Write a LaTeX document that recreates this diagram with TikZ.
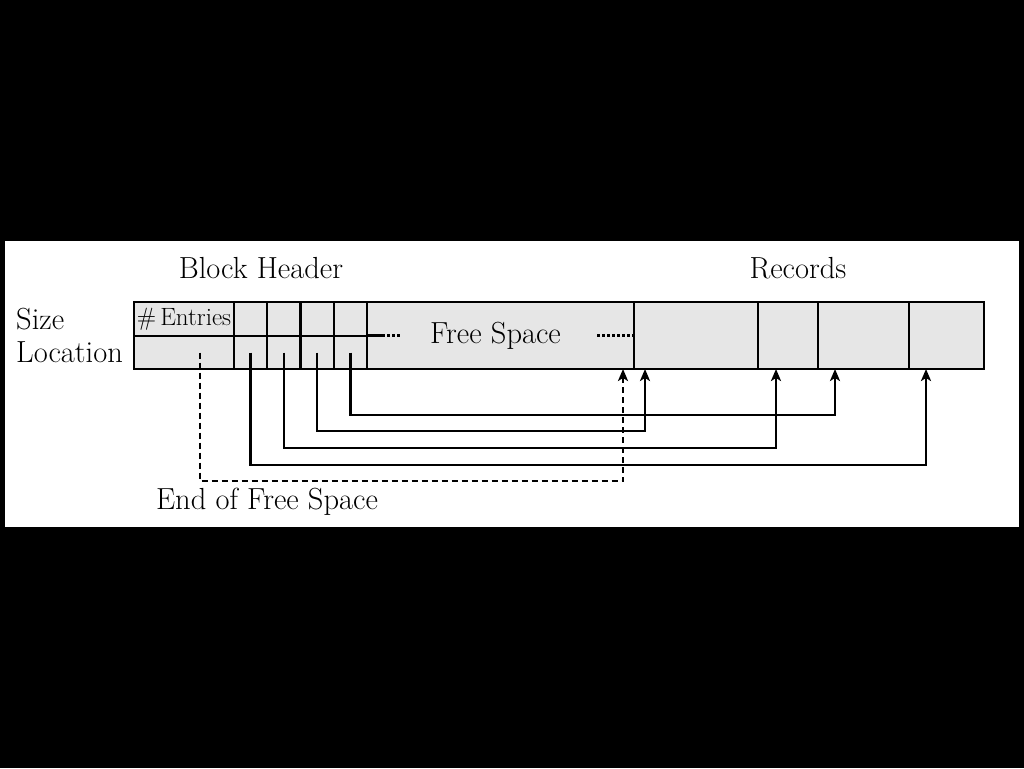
\documentclass[tikz,border=0pt]{standalone}
\usetikzlibrary{arrows.meta,positioning}
\definecolor{cellgray}{RGB}{230,230,230}

\begin{document}
\begin{tikzpicture}[x=1pt, y=-1pt, >={Stealth[length=12pt,width=10pt,inset=3pt]},
  cell/.style={draw, fill=cellgray, line width=2.4pt, inner sep=0pt, outer sep=0pt},
  lbl/.style={font=\fontsize{30.5}{34}\selectfont, inner sep=0pt},
  ptr/.style={line width=2.4pt, ->},
  dotline/.style={line width=2.4pt, dash pattern=on 3pt off 2pt}]

  % --- frame ---
  \fill[black] (0,0) rectangle (1024,768);
  \fill[white] (5,241) rectangle (1019,527);

  % --- block header ---
  \node[cell, minimum width=100pt, minimum height=34pt,
        font=\fontsize{25}{28}\selectfont] (entries) at (184,319) {\#\,Entries};
  \node[cell, minimum width=100pt, minimum height=33pt] (loc) at (184,352.5) {};
  \foreach \i in {1,...,4} {
    \pgfmathsetmacro{\cx}{234+33.25*(\i-0.5)}
    \node[cell, minimum width=33.25pt, minimum height=34pt] (s\i) at (\cx,319) {};
    \node[cell, minimum width=33.25pt, minimum height=33pt] (p\i) at (\cx,352.5) {};
  }

  % --- free space ---
  \node[cell, minimum width=267pt, minimum height=67pt, lbl] (free) at (500.5,335.5)
    {\raisebox{-3pt}{Free Space}\hspace*{10pt}};
  \draw[line width=2.4pt] (free.west) -- ++(15,0);
  \draw[dotline] ([xshift=15pt]free.west) -- ++(18,0);
  \draw[dotline] ([xshift=-37pt]free.east) -- (free.east);

  % --- records ---
  \node[cell, minimum width=124pt, minimum height=67pt] (rec1) at (696,335.5) {};
  \node[cell, minimum width=60pt, minimum height=67pt] (rec2) at (788,335.5) {};
  \node[cell, minimum width=91pt, minimum height=67pt] (rec3) at (863.5,335.5) {};
  \node[cell, minimum width=75pt, minimum height=67pt] (rec4) at (946.5,335.5) {};

  % --- labels ---
  \node[lbl] (hdrlbl) at (261,268) {Block Header};
  \node[lbl] (reclbl) at (798,268) {Records};
  \node[lbl, anchor=west] (sizelbl) at (16,319) {Size};
  \node[lbl, anchor=west] (loclbl) at (16,352) {Location};
  \node[lbl] (endlbl) at (267,502) {End of Free Space};

  % --- pointers ---
  \draw[ptr] (p1.center) -- ([yshift=-112.5pt]p1.center) -| ([xshift=17pt]rec4.south west);
  \draw[ptr] (p2.center) -- ([yshift=-95.5pt]p2.center) -| ([xshift=18pt]rec2.south west);
  \draw[ptr] (p3.center) -- ([yshift=-78.5pt]p3.center) -| ([xshift=11pt]rec1.south west);
  \draw[ptr] (p4.center) -- ([yshift=-62.5pt]p4.center) -| ([xshift=17pt]rec3.south west);
  \draw[ptr, dash pattern=on 6pt off 4pt] ([xshift=16pt]loc.center)
    -- ([xshift=16pt, yshift=-128.5pt]loc.center) -| ([xshift=-11pt]free.south east);

\end{tikzpicture}
\end{document}
